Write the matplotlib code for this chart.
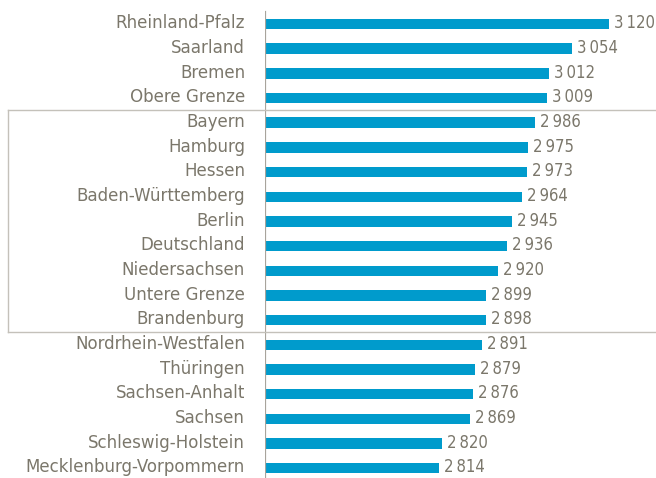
import matplotlib
matplotlib.use("Agg")
import matplotlib.pyplot as plt
from matplotlib.lines import Line2D
from matplotlib.transforms import blended_transform_factory

# Daten
laender = ["Rheinland-Pfalz", "Saarland", "Bremen", "Obere Grenze", "Bayern",
           "Hamburg", "Hessen", "Baden-Württemberg", "Berlin", "Deutschland",
           "Niedersachsen", "Untere Grenze", "Brandenburg", "Nordrhein-Westfalen",
           "Thüringen", "Sachsen-Anhalt", "Sachsen", "Schleswig-Holstein",
           "Mecklenburg-Vorpommern"]
werte = [3120, 3054, 3012, 3009, 2986, 2975, 2973, 2964, 2945, 2936,
         2920, 2899, 2898, 2891, 2879, 2876, 2869, 2820, 2814]
band_oben = "Bayern"
band_unten = "Brandenburg"

balken_farbe = "#009bcc"
text_farbe = "#7b776b"
linien_farbe = "#c4c1ba"
achsen_farbe = "#a8a49c"

plt.rcParams['font.family'] = ['DejaVu Sans']
plt.rcParams['font.stretch'] = 'condensed'

W, H = 656, 478
fig = plt.figure(figsize=(W / 100, H / 100), dpi=100)
x0 = 264.6
ax = fig.add_axes([x0 / W, 0, 1 - x0 / W, 1])

pos = list(range(len(laender)))
ax.barh(pos, [v - 2500 for v in werte], left=2500, height=0.42,
        color=balken_farbe, zorder=3)

ax.set_xlim(2500, 3204.5)
row = 24.67
ax.set_ylim((H - 24) / row, -24 / row)
ax.axis("off")

# Achsenlinie links
ax.axvline(2500, ymin=0, ymax=1 - 12 / H, color=achsen_farbe, lw=1.6, zorder=4)

ytr = blended_transform_factory(fig.transFigure, ax.transData)
for i, (name, v) in enumerate(zip(laender, werte)):
    ax.text(245 / W, i - 0.03, name, transform=ytr,
            ha="right", va="center", fontsize=13.3, color=text_farbe,
            fontstretch="condensed")
    s = f"{v:,}".replace(",", "\u2009")
    ax.annotate(s, (v, i - 0.03), xytext=(5, 0), textcoords="offset pixels",
                ha="left", va="center", fontsize=12, color=text_farbe,
                fontstretch="condensed")

# Rahmen um den Bereich zwischen oberer und unterer Grenze
i_o = laender.index(band_oben) - 0.5
i_u = laender.index(band_unten) + 0.5
xl = 8 / W
for l in [Line2D([xl, 1], [i_o, i_o]), Line2D([xl, 1], [i_u, i_u]),
          Line2D([xl, xl], [i_o, i_u])]:
    l.set_transform(ytr)
    l.set_color(linien_farbe)
    l.set_linewidth(1.0)
    l.set_clip_on(False)
    fig.add_artist(l)

fig.savefig("out.png", dpi=100)
